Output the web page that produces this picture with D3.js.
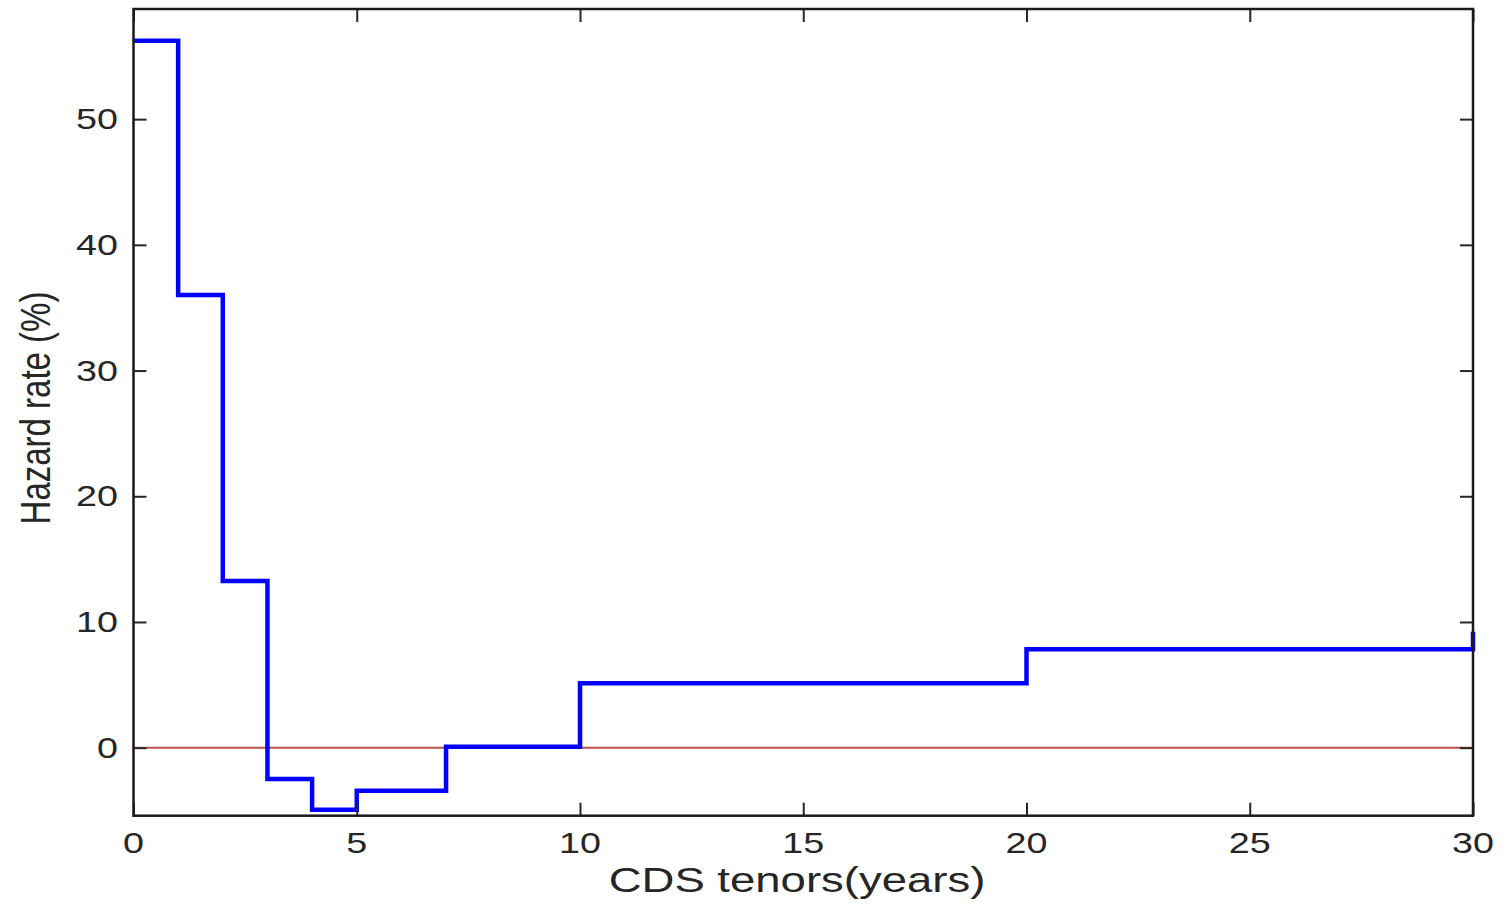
<!DOCTYPE html>
<html>
<head>
<meta charset="utf-8">
<script src="https://cdn.jsdelivr.net/npm/d3@7"></script>
<style>
  html, body { margin: 0; padding: 0; background: #fff; }
  svg { display: block; }
  text { font-family: "Liberation Sans", Arial, sans-serif; fill: #262626; }
</style>
</head>
<body>
<svg id="chart" width="1503" height="905"></svg>
<script>
// Tenor breakpoints (years) and piecewise-constant hazard rate (%) on each interval
const tenors = [0, 1, 2, 3, 4, 5, 7, 10, 20, 30];
const hazardRates = [56.24, 36.0, 13.26, -2.49, -4.93, -3.42, 0.08, 5.12, 7.83, 9.23];
const xTickValues = [0, 5, 10, 15, 20, 25, 30];
const yTickValues = [0, 10, 20, 30, 40, 50];
const xLabel = "CDS tenors(years)";
const yLabel = "Hazard rate (%)";

const svg = d3.select("#chart");
const plot = { left: 133.5, right: 1473, top: 9, bottom: 815.7 };
const stretch = 1.3;   // horizontal stretch of all lettering

const x = d3.scaleLinear().domain([0, 30]).range([plot.left, plot.right]);
const y = d3.scaleLinear().domain([-5.41, 58.76]).range([plot.bottom, plot.top]);

// zero reference line
svg.append("line")
  .attr("x1", x(0)).attr("x2", x(30))
  .attr("y1", y(0)).attr("y2", y(0))
  .attr("stroke", "#c0504d").attr("stroke-width", 2);

// hazard rate as a staircase
const stairs = d3.line()
  .x((d, i) => x(tenors[i]))
  .y(d => y(d))
  .curve(d3.curveStepAfter);

svg.append("path")
  .datum(hazardRates)
  .attr("d", stairs)
  .attr("fill", "none")
  .attr("stroke", "#0000ff")
  .attr("stroke-width", 4.5)
  .attr("stroke-linejoin", "miter");

// axes with inward ticks on all four sides
const tick = 13;
function styleAxis(g) {
  g.select(".domain").remove();
  g.selectAll("text").remove();
  g.selectAll("line").attr("stroke", "#262626").attr("stroke-width", 2);
}
svg.append("g").attr("transform", `translate(0,${plot.bottom})`)
  .call(d3.axisBottom(x).tickValues(xTickValues).tickSizeInner(-tick).tickSizeOuter(0)).call(styleAxis);
svg.append("g").attr("transform", `translate(0,${plot.top})`)
  .call(d3.axisTop(x).tickValues(xTickValues).tickSizeInner(-tick).tickSizeOuter(0)).call(styleAxis);
svg.append("g").attr("transform", `translate(${plot.left},0)`)
  .call(d3.axisLeft(y).tickValues(yTickValues).tickSizeInner(-tick).tickSizeOuter(0)).call(styleAxis);
svg.append("g").attr("transform", `translate(${plot.right},0)`)
  .call(d3.axisRight(y).tickValues(yTickValues).tickSizeInner(-tick).tickSizeOuter(0)).call(styleAxis);

// frame
svg.append("rect")
  .attr("x", plot.left).attr("y", plot.top)
  .attr("width", plot.right - plot.left).attr("height", plot.bottom - plot.top)
  .attr("fill", "none").attr("stroke", "#1a1a1a").attr("stroke-width", 2.5);

// tick labels
svg.append("g").selectAll("text").data(xTickValues).join("text")
  .attr("transform", d => `translate(${x(d)},852.5) scale(${stretch},1)`)
  .attr("text-anchor", "middle")
  .style("font-size", "29px")
  .text(d => d);

svg.append("g").selectAll("text").data(yTickValues).join("text")
  .attr("transform", d => `translate(118,${y(d)}) scale(${stretch},1)`)
  .attr("text-anchor", "end")
  .attr("dy", "0.35em")
  .style("font-size", "29px")
  .text(d => d);

// axis titles
svg.append("text")
  .attr("transform", `translate(797,892) scale(${stretch},1)`)
  .attr("text-anchor", "middle")
  .style("font-size", "35px")
  .text(xLabel);

svg.append("text")
  .attr("transform", `translate(50,408) scale(${stretch},1) rotate(-90)`)
  .attr("text-anchor", "middle")
  .style("font-size", "33px")
  .text(yLabel);
</script>
</body>
</html>
